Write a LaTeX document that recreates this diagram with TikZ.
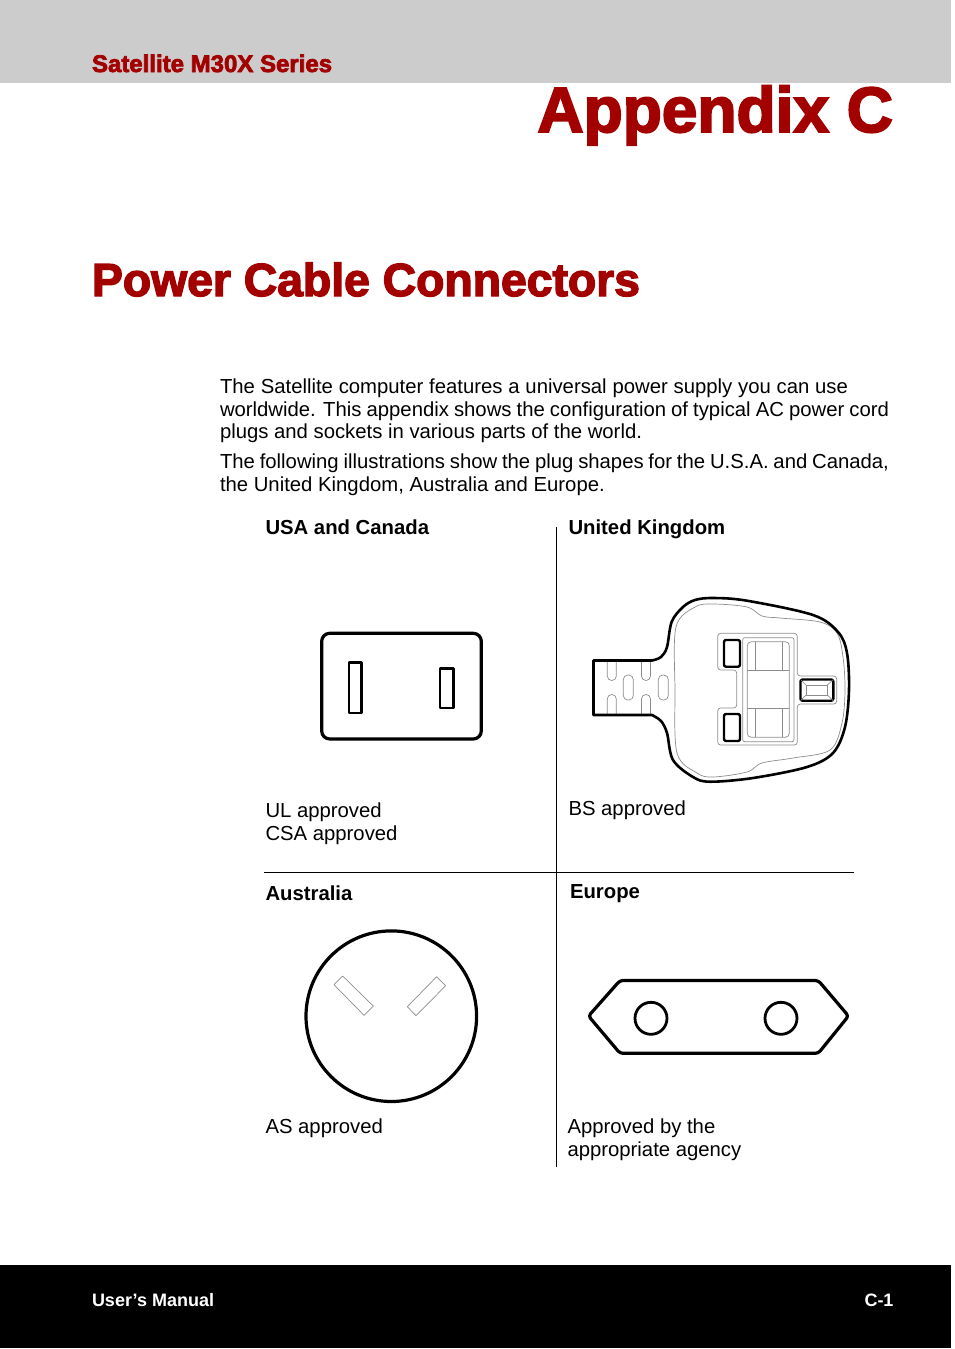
\documentclass[tikz,border=0pt]{standalone}
\usepackage{fontspec}
\setmainfont{Liberation Sans}
\newfontfamily\heavyfont[BoldFeatures={FakeBold=3}]{Liberation Sans}
\definecolor{bandgray}{HTML}{CCCCCC}
\definecolor{headred}{HTML}{A30000}
\definecolor{thingray}{HTML}{8C8C8C}
\tikzset{
    every node/.style={inner sep=0pt, outer sep=0pt},
    body/.style={anchor=north west, align=left,
        font=\fontsize{20.3}{22.5}\selectfont},
    caption/.style={anchor=base west, font=\fontsize{20.3}{22.5}\selectfont\bfseries},
    heading/.style={text=headred, font=\heavyfont\bfseries},
    thickline/.style={draw=black, line width=3.2pt, line join=round},
    midline/.style={draw=black, line width=2.4pt, line join=round},
    thinline/.style={draw=thingray, line width=.7pt, line join=round}
}

\begin{document}
\begin{tikzpicture}[x=1pt, y=-1pt]
  \useasboundingbox (0, 0) rectangle (954, 1349);

  \fill [bandgray] (0, 0) rectangle (951, 83);
  \fill [black] (0, 1265) rectangle (951, 1348);

  \node (series) [heading, anchor=base west] at (92, 72)
    {\fontsize{24}{26}\selectfont Satellite M30X Series};
  \node (appendix) [heading, anchor=base east] at (893, 132)
    {\fontsize{64}{70}\selectfont Appendix C};
  \node (title) [heading, anchor=base west] at (92, 296)
    {\fontsize{46.3}{50}\selectfont Power Cable Connectors};

  \node (intro) [body] at (220, 379) {\makebox[628pt][s]{The Satellite computer features a universal power supply you can use}\\
    \makebox[669pt][s]{worldwide. This appendix shows the configuration of typical AC power cord}\\
    plugs and sockets in various parts of the world.};
  \node (follow) [body] at (220, 454) {\makebox[669pt][s]{The following illustrations show the plug shapes for the U.S.A. and Canada,}\\
    the United Kingdom, Australia and Europe.};

  \node (usa) [caption] at (265.5, 534) {USA and Canada};
  \node (uk) [caption] at (568.5, 534) {United Kingdom};
  \node (aus) [caption] at (265.5, 900) {Australia};
  \node (eur) [caption] at (570, 898) {Europe};

  \node (ul) [body] at (265.5, 803) {UL approved\\CSA approved};
  \node (bs) [body] at (568.5, 801) {BS approved};
  \node (as) [body] at (265.5, 1119) {AS approved};
  \node (agency) [body] at (567.5, 1119) {Approved by the\\appropriate agency};

  \node (manual) [anchor=base west, text=white, font=\fontsize{18}{20}\selectfont\bfseries] at (92, 1306) {User’s Manual};
  \node (page) [anchor=base east, text=white, font=\fontsize{18}{20}\selectfont\bfseries] at (893.5, 1306) {C-1};

  \coordinate (vtop) at (556.5, 527);
  \coordinate (vbot) at (556.5, 1167);
  \coordinate (hleft) at (264, 872.5);
  \coordinate (hright) at (854, 872.5);
  \draw [line width=.9pt] (vtop) -- (vbot);
  \draw [line width=.9pt] (hleft) -- (hright);

  % usa
  \draw [thickline, rounded corners=8pt] (321.7, 633.3) rectangle (481.3, 739);
  \draw [midline] (349, 662.3) rectangle (361.5, 712.7);
  \draw [midline] (440, 668.3) rectangle (453.3, 708);

  % australia
  \draw [thickline] (391.3, 1016.2) circle (85.3pt);
  \draw [thinline] (342.7, 976) -- (373.3, 1006) -- (364, 1015.3) -- (334, 984.7) -- cycle;
  \draw [thinline] (436.7, 976.7) -- (445.7, 985.7) -- (416, 1015.7) -- (407.3, 1006.7) -- cycle;

  % europe
  \draw [thickline, rounded corners=3pt] (620, 980.5) -- (818.3, 980.5) -- (848.5, 1016) -- (818.3, 1053.3) -- (620, 1053.3) -- (588.5, 1016) -- cycle;
  \draw [midline, line width=2.8pt] (651, 1018.3) circle (16pt);
  \draw [midline, line width=2.8pt] (781, 1018.3) circle (16pt);

  % uk
  \draw [thinline] plot [smooth cycle, tension=.55] coordinates {(676, 627) (695, 607) (713, 604)
    (747, 607) (762, 616) (780, 618) (820, 622) (837, 633) (843, 657) (845, 690) (842, 723)
    (830, 750) (793, 758) (762, 763) (747, 772) (713, 777) (697, 773) (677, 753) (675, 690)};
  \draw [thinline, rounded corners=3pt] (717.7, 633.3) -- (797.3, 633.3) -- (797.3, 676) -- (836.7, 676)
    -- (836.7, 704) -- (797.3, 704) -- (797.3, 745) -- (717.7, 745) -- (717.7, 708) -- (736.7, 708)
    -- (736.7, 670) -- (717.7, 670) -- cycle;
  \draw [thinline, rounded corners=2pt] (742.7, 637.7) rectangle (794, 741.7);
  \draw [thinline, rounded corners=4pt] (747.3, 641.7) rectangle (789.3, 737.3);
  \draw [thinline] (747.3, 670) -- (789.3, 670);
  \draw [thinline] (747.3, 708) -- (789.3, 708);
  \foreach \xpos in {755, 782.7} {
    \draw [thinline] (\xpos, 641.7) -- (\xpos, 670);
    \draw [thinline] (\xpos, 708) -- (\xpos, 737.3);
  }
  \foreach \xpos in {607.3, 641.5} {
    \draw [thinline, rounded corners=4.4pt] (\xpos, 660.5) -- (\xpos, 680.5) -- (\xpos+9, 680.5) -- (\xpos+9, 660.5);
    \draw [thinline, rounded corners=4.4pt] (\xpos, 715) -- (\xpos, 694.5) -- (\xpos+9, 694.5) -- (\xpos+9, 715);
  }
  \foreach \xpos in {623.3, 658.3}
    \draw [thinline, rounded corners=4.5pt] (\xpos, 675) rectangle (\xpos+10, 700);
  \draw [thickline, line width=2.6pt] plot [smooth, tension=.55] coordinates {(652, 660.5) (661, 657) (667, 647)
    (671.7, 621.7) (683, 607) (695, 600) (713, 598) (747, 600.7) (813, 615) (838, 632) (847, 653)
    (849, 690) (845, 727) (833, 753) (807, 767) (753, 778) (710, 781.7) (693, 777) (673, 760)
    (667, 733) (661, 721) (652, 715)} -- (593.5, 715) -- (593.5, 660.5) -- cycle;
  \draw [midline, rounded corners=2pt] (724, 640) rectangle (740, 666.7);
  \draw [midline, rounded corners=2pt] (724, 714) rectangle (740, 741);
  \draw [midline, rounded corners=2pt] (800.5, 679.5) rectangle (833.3, 700.7);
  \draw [thinline] (806, 685) rectangle (827.3, 695);
  \draw [thinline] (800.5, 679.5) -- (806, 685);
  \draw [thinline] (833.3, 679.5) -- (827.3, 685);
  \draw [thinline] (800.5, 700.7) -- (806, 695);
  \draw [thinline] (833.3, 700.7) -- (827.3, 695);
\end{tikzpicture}
\end{document}
